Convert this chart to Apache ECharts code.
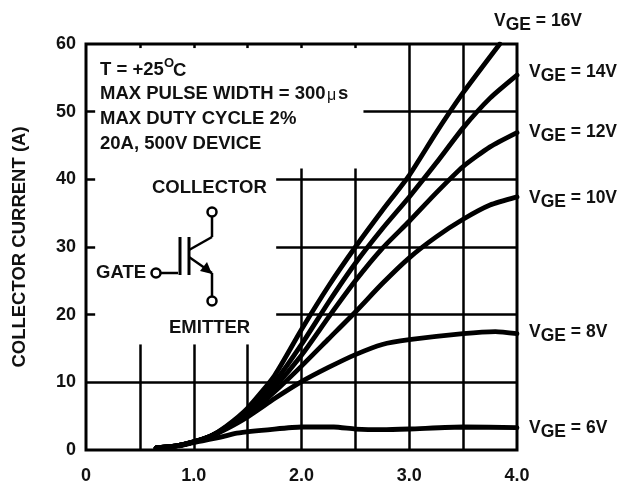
<!DOCTYPE html>
<html><head><meta charset="utf-8">
<style>html,body{margin:0;padding:0;background:#fff}#c{width:621px;height:485px}</style>
<script src="https://cdn.jsdelivr.net/npm/echarts@6/dist/echarts.min.js"></script>
</head><body><div id="c"></div>
<script>
const xTickLabels = {0:'0',1:'1.0',2:'2.0',3:'3.0',4:'4.0'};
const start = [[0.65,0.3],[0.85,0.65],[1.0,1.2],[1.15,2.0]];
const vge6 = [[0.65,0.3],[0.85,0.6],[1.0,1.1],[1.25,1.9],[1.4,2.5],[1.75,3.1],[2.0,3.4],[2.3,3.4],[2.5,3.1],[2.75,3.0],[3.0,3.1],[3.5,3.4],[4.0,3.3]];
const vge8 = [...start,[1.3,3.1],[1.5,4.9],[1.75,7.6],[2.0,10.1],[2.25,12.2],[2.5,14.1],[2.75,15.6],[3.0,16.3],[3.5,17.2],[3.8,17.5],[4.0,17.2]];
const vge10 = [...start,[1.3,3.2],[1.5,5.2],[1.75,8.6],[2.0,12.4],[2.25,16.4],[2.5,20.4],[2.75,24.6],[3.0,28.4],[3.25,31.5],[3.5,34.1],[3.75,36.2],[4.0,37.4]];
const vge12 = [...start,[1.3,3.3],[1.5,5.5],[1.75,9.3],[2.0,14.0],[2.25,19.6],[2.5,25.0],[2.75,29.8],[3.0,33.8],[3.25,38.0],[3.5,41.9],[3.75,44.8],[4.0,46.9]];
const vge14 = [...start,[1.3,3.4],[1.5,5.8],[1.75,10.0],[2.0,15.6],[2.25,21.8],[2.5,27.6],[2.75,32.7],[3.0,37.4],[3.25,42.4],[3.5,47.6],[3.75,52.0],[4.0,55.4]];
const vge16 = [...start,[1.3,3.5],[1.5,6.2],[1.75,11.0],[2.0,17.8],[2.25,24.2],[2.5,30.0],[2.75,35.4],[3.0,40.6],[3.25,46.9],[3.5,52.8],[3.84,60.0]];
const curves = [vge6,vge8,vge10,vge12,vge14,vge16];
// grid segments in data units: [x, yFrom, yTo]
const vSegments = [[0.5,0,15.6],[0.5,59.4,60],[1,0,15.6],[1,59.4,60],[1.5,0,15.6],[1.5,59.4,60],[2,0,41.6],[2,59.4,60],[2.5,0,41.6],[2.5,59.4,60],[3,0,60],[3.5,0,60]];
// [y, xFrom, xTo]
const hSegments = [[10,0,4],[20,0,0.085],[20,1.765,4],[30,0,0.085],[30,1.765,4],[40,0,0.085],[40,1.765,4],[50,0,0.085],[50,2.575,4]];
const infoLines = ['MAX PULSE WIDTH = 300','MAX DUTY CYCLE 2%','20A, 500V DEVICE'];
const vgeLabels = [['16V',494,21],['14V',529,72],['12V',529,132],['10V',529,198],['8V',529,332],['6V',529,428]];

const F = '"Liberation Sans", Arial, sans-serif';
const txt = {fontFamily:F,fontWeight:'bold',fontSize:18.5,fill:'#111'};
const T = (text,x,y,extra)=>({type:'text',x,y,style:Object.assign({},txt,{text,textVerticalAlign:'middle'},extra||{}),z:20});
const L = (x1,y1,x2,y2,w)=>({type:'line',shape:{x1,y1,x2,y2},style:{stroke:'#000',lineWidth:w||2.5},z:20});
const C = (cx,cy)=>({type:'circle',shape:{cx,cy,r:4.5},style:{stroke:'#000',fill:'#fff',lineWidth:2.5},z:20});

const graphic = [
  T('T = +25',100,70),
  T('O',164,63,{fontSize:13}),
  T('C',173,71),
  T(infoLines[0],100,94),
  T('\u03bc',327,96,{fontWeight:'normal',fontSize:16}),
  T('s',338,94),
  T(infoLines[1],100,119),
  T(infoLines[2],100,144),
  T('COLLECTOR',152,188),
  T('GATE',96,273),
  T('EMITTER',169,328),
  L(160,273,178,273),L(180,237,180,275,3),L(189,237,189,275,3),
  L(189,250,212,237),L(212,237,212,217),
  L(189,257,212,273),L(212,273,212,296),
  {type:'polygon',shape:{points:[[212,274],[200,271],[207,262]]},style:{fill:'#000'},z:20},
  C(156,273),C(212,212),C(212,301)
];
vgeLabels.forEach(([v,x,y])=>{
  graphic.push({type:'text',x,y,z:20,style:{
    text:'{a|V}{b|GE}{a| = '+v+'}',textVerticalAlign:'middle',
    rich:{a:Object.assign({},txt,{fontSize:17.5,lineHeight:22}),b:Object.assign({},txt,{fontSize:17.5,lineHeight:22,padding:[9,0,0,0]})}
  }});
});

const guideData = [
  ...vSegments.map(([x,a,b])=>[{coord:[x,a]},{coord:[x,b]}]),
  ...hSegments.map(([y,a,b])=>[{coord:[a,y]},{coord:[b,y]}])
];
const series = curves.map(d=>({
  type:'line',data:d,smooth:0.2,showSymbol:false,clip:true,silent:true,z:5,
  lineStyle:{color:'#000',width:4.8,cap:'round'}
}));
series.push({type:'line',data:[],silent:true,z:3,
  markLine:{silent:true,symbol:'none',animation:false,label:{show:false},
    lineStyle:{color:'#000',width:2.5,type:'solid'},data:guideData}});

const chart = echarts.init(document.getElementById('c'),null,{renderer:'canvas'});
chart.setOption({
  animation:false,backgroundColor:'#fff',
  grid:{left:86,right:104,top:44,bottom:34,show:true,borderColor:'#000',borderWidth:3,backgroundColor:'transparent'},
  xAxis:{type:'value',min:0,max:4,interval:0.5,
    axisLine:{show:false},axisTick:{show:false},splitLine:{show:false},
    axisLabel:{margin:17,color:'#111',fontFamily:F,fontWeight:'bold',fontSize:18,showMinLabel:true,showMaxLabel:true,
      formatter:v=>xTickLabels[v]!==undefined?xTickLabels[v]:''}},
  yAxis:{type:'value',min:0,max:60,interval:10,
    name:'COLLECTOR CURRENT (A)',nameLocation:'middle',nameGap:57,nameRotate:90,
    nameTextStyle:{color:'#111',fontFamily:F,fontWeight:'bold',fontSize:18.5},
    axisLine:{show:false},axisTick:{show:false},splitLine:{show:false},
    axisLabel:{margin:10,color:'#111',fontFamily:F,fontWeight:'bold',fontSize:18}},
  series,graphic
});
</script></body></html>
